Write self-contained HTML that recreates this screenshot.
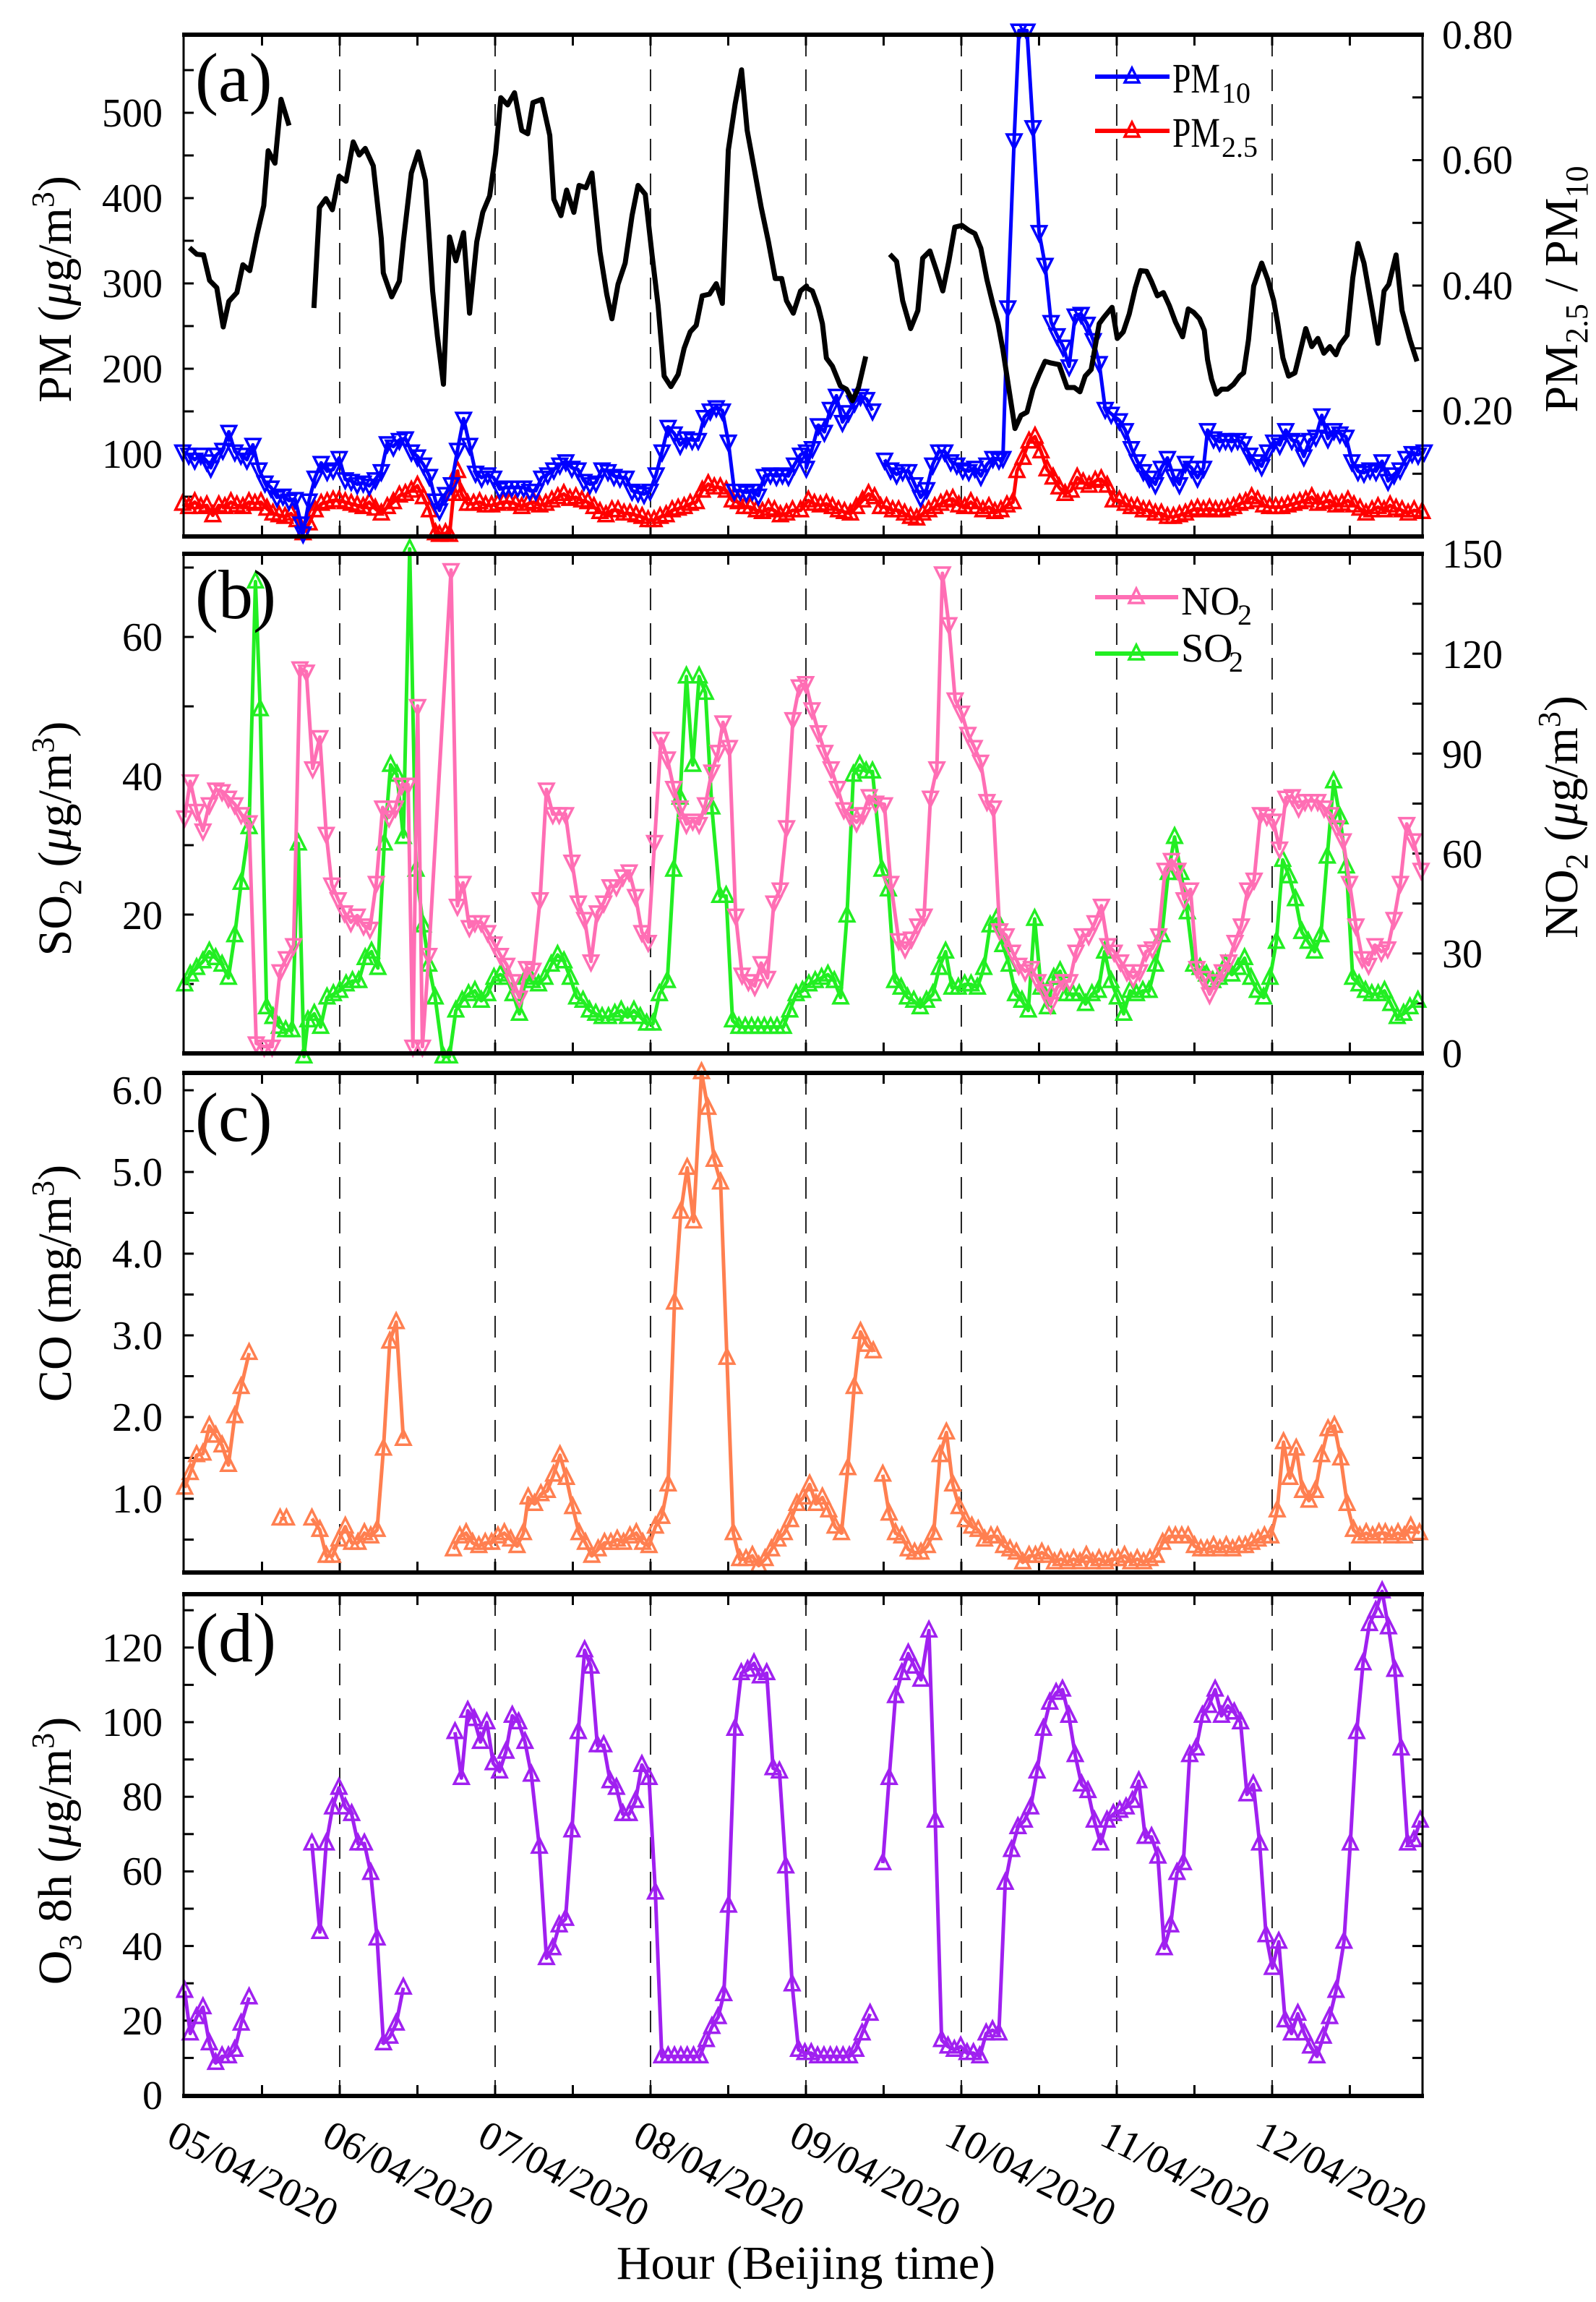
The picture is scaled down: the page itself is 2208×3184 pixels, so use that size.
<!DOCTYPE html>
<html><head><meta charset="utf-8">
<style>
html,body{margin:0;padding:0;background:#fff;}
svg{display:block;font-family:"Liberation Serif","DejaVu Serif",serif;}
</style></head>
<body>
<svg id="c" width="2208" height="3184" viewBox="0 0 2208 3184">
<rect width="2208" height="3184" fill="#fff"/>
<g id="plot"></g>
<g font-size="56" fill="#000">
<g text-anchor="end">
<text x="225" y="647">100</text><text x="225" y="529">200</text><text x="225" y="411">300</text><text x="225" y="293">400</text><text x="225" y="175">500</text>
<text x="225" y="1285">20</text><text x="225" y="1093">40</text><text x="225" y="900">60</text>
<text x="225" y="2092">1.0</text><text x="225" y="1979">2.0</text><text x="225" y="1866">3.0</text><text x="225" y="1753">4.0</text><text x="225" y="1640">5.0</text><text x="225" y="1527">6.0</text>
<text x="225" y="2917">0</text><text x="225" y="2814">20</text><text x="225" y="2711">40</text><text x="225" y="2607">60</text><text x="225" y="2504">80</text><text x="225" y="2401">100</text><text x="225" y="2298">120</text>
</g>
<g text-anchor="start">
<text x="1995" y="587">0.20</text><text x="1995" y="414">0.40</text><text x="1995" y="240">0.60</text><text x="1995" y="67">0.80</text>
<text x="1995" y="1476">0</text><text x="1995" y="1338">30</text><text x="1995" y="1200">60</text><text x="1995" y="1062">90</text><text x="1995" y="924">120</text><text x="1995" y="785">150</text>
</g>
<g font-size="96">
<text x="270" y="140">(a)</text><text x="270" y="855">(b)</text><text x="270" y="1578">(c)</text><text x="270" y="2298">(d)</text>
</g>
<text x="1622" y="128" textLength="66" lengthAdjust="spacingAndGlyphs" font-size="58">PM</text>
<text x="1690" y="142" font-size="40">10</text>
<text x="1622" y="203" textLength="66" lengthAdjust="spacingAndGlyphs" font-size="58">PM</text>
<text x="1690" y="217" font-size="40">2.5</text>
<text x="1634" y="850" font-size="56">NO</text>
<text x="1712" y="864" font-size="40">2</text>
<text x="1634" y="915" font-size="56">SO</text>
<text x="1700" y="929" font-size="40">2</text>
<g font-size="66" text-anchor="middle">
<text transform="translate(98,400) rotate(-90)">PM  (<tspan font-style="italic">μ</tspan>g/m<tspan dy="-24" font-size="44">3</tspan><tspan dy="24">)</tspan></text>
<text transform="translate(98,1160) rotate(-90)">SO<tspan dy="14" font-size="44">2</tspan><tspan dy="-14">  (</tspan><tspan font-style="italic">μ</tspan>g/m<tspan dy="-24" font-size="44">3</tspan><tspan dy="24">)</tspan></text>
<text transform="translate(98,1775) rotate(-90)">CO  (mg/m<tspan dy="-24" font-size="44">3</tspan><tspan dy="24">)</tspan></text>
<text transform="translate(98,2560) rotate(-90)">O<tspan dy="14" font-size="44">3</tspan><tspan dy="-14">  8h  (</tspan><tspan font-style="italic">μ</tspan>g/m<tspan dy="-24" font-size="44">3</tspan><tspan dy="24">)</tspan></text>
<text transform="translate(2182,400) rotate(-90)">PM<tspan dy="14" font-size="44">2.5</tspan><tspan dy="-14"> / PM</tspan><tspan dy="14" font-size="44">10</tspan></text>
<text transform="translate(2182,1130) rotate(-90)">NO<tspan dy="14" font-size="44">2</tspan><tspan dy="-14">  (</tspan><tspan font-style="italic">μ</tspan>g/m<tspan dy="-24" font-size="44">3</tspan><tspan dy="24">)</tspan></text>
</g>
<g font-size="56">
<text transform="translate(228,2965) rotate(27)">05/04/2020</text>
<text transform="translate(443,2965) rotate(27)">06/04/2020</text>
<text transform="translate(658,2965) rotate(27)">07/04/2020</text>
<text transform="translate(873,2965) rotate(27)">08/04/2020</text>
<text transform="translate(1089,2965) rotate(27)">09/04/2020</text>
<text transform="translate(1304,2965) rotate(27)">10/04/2020</text>
<text transform="translate(1519,2965) rotate(27)">11/04/2020</text>
<text transform="translate(1734,2965) rotate(27)">12/04/2020</text>
</g>
<text x="1115" y="3152" font-size="66" text-anchor="middle">Hour (Beijing time)</text>
</g>
</svg>
<script>
(function(){
var Z={z3:[250,.555,40,.453],z4:[1110,.555,40,.453],z5:[250,1.1,750,.453],z6:[250,1.1,1474,.449],z7:[250,1.1,2192,.453]};
function m(z,a){var c=Z[z],o=[];for(var i=0;i<a.length;i+=2)o.push([c[0]+a[i]*c[1],c[2]+a[i+1]*c[3]]);return o;}
var out=[];
var panels=[[48,742],[766,1457],[1484,2175],[2205,2899]];
var L=254,R=1968;
function X(h){return 255+h*8.958;}
panels.forEach(function(p){
  for(var d=1;d<8;d++){var x=X(d*24);out.push('<line x1="'+x+'" y1="'+p[0]+'" x2="'+x+'" y2="'+p[1]+'" stroke="#222" stroke-width="2" stroke-dasharray="30 18"/>');}
  for(var h=12;h<192;h+=12){var x=X(h);out.push('<line x1="'+x+'" y1="'+p[0]+'" x2="'+x+'" y2="'+(p[0]+15)+'" stroke="#000" stroke-width="3"/>');out.push('<line x1="'+x+'" y1="'+p[1]+'" x2="'+x+'" y2="'+(p[1]-15)+'" stroke="#000" stroke-width="3"/>');}
});
function lt(y){out.push('<line x1="'+L+'" y1="'+y+'" x2="'+(L+14)+'" y2="'+y+'" stroke="#000" stroke-width="3"/>');}
function rt(y){out.push('<line x1="'+R+'" y1="'+y+'" x2="'+(R-14)+'" y2="'+y+'" stroke="#000" stroke-width="3"/>');}
var v;
for(v=50;v<=550;v+=50)lt(746-v*1.18);
for(v=0.1;v<0.8;v+=0.1)rt(742-v*867.5);
for(v=10;v<=70;v+=10)lt(1457-v*9.6);
for(v=15;v<150;v+=15)rt(1457-v*4.607);
for(v=0.5;v<=6.01;v+=0.5){lt(2073-(v-1)*113);rt(2073-(v-1)*113);}
for(v=10;v<=130;v+=10){lt(2898-v*5.16);rt(2898-v*5.16);}
function tri(x,y,up,col){var s=10;var pts=up?[[x,y-s-2],[x-s,y+s-2],[x+s,y+s-2]]:[[x,y+s+2],[x-s,y-s+2],[x+s,y-s+2]];
 return '<polygon points="'+pts.map(function(p){return p[0].toFixed(1)+','+p[1].toFixed(1)}).join(' ')+'" fill="none" stroke="'+col+'" stroke-width="3.5"/>';}
function series(segs,col,w,mk){
 segs.forEach(function(seg){
  var pts=[];seg.forEach(function(s){pts=pts.concat(m(s[0],s[1]));});
  out.push('<polyline points="'+pts.map(function(p){return p[0].toFixed(1)+','+p[1].toFixed(1)}).join(' ')+'" fill="none" stroke="'+col+'" stroke-width="'+w+'" stroke-linejoin="round"/>');
  if(mk){pts.forEach(function(p){out.push(tri(p[0],p[1],mk=='up',col));});}
 });
}
var red3=[5,1450,20,1460,35,1445,50,1460,65,1455,80,1485,95,1455,110,1460,125,1445,140,1455,155,1460,170,1445,185,1450,200,1445,215,1465,230,1480,245,1485,260,1490,275,1480,290,1500,305,1540,320,1510,335,1470,350,1450,365,1445,380,1440,395,1440,410,1445,425,1450,440,1455,455,1460,470,1445,485,1465,500,1480,515,1460,530,1445,545,1425,560,1420,575,1410,590,1395,605,1430,620,1470,635,1540,645,1545,660,1540,670,1545,680,1420,690,1350,700,1420,715,1450,730,1450,745,1445,760,1455,775,1455,790,1450,805,1445,820,1445,835,1450,850,1460,865,1450,880,1445,895,1455,910,1450,925,1440,940,1430,955,1420,970,1435,985,1430,1000,1440,1015,1445,1030,1460,1045,1475,1060,1485,1075,1470,1090,1470,1105,1480,1120,1480,1135,1485,1150,1490,1165,1500,1180,1500,1195,1490,1210,1485,1225,1470,1240,1465,1255,1460,1270,1450,1285,1445,1300,1410,1315,1390,1330,1400,1345,1400,1360,1410,1375,1440,1390,1445,1405,1460,1420,1460,1435,1470,1450,1475,1465,1465,1480,1470,1495,1485,1510,1480,1525,1470,1545,1470];
var red4=[15,1440,30,1450,45,1455,60,1450,75,1460,90,1470,105,1475,120,1480,135,1460,150,1440,165,1420,180,1430,195,1460,210,1460,225,1470,240,1470,255,1480,270,1490,285,1495,300,1480,315,1470,330,1460,345,1450,360,1440,375,1435,390,1455,405,1460,420,1445,435,1460,450,1470,465,1460,480,1475,495,1470,510,1455,525,1445,535,1350,550,1310,565,1260,580,1245,595,1290,610,1345,625,1370,640,1400,655,1420,670,1410,685,1370,700,1385,715,1395,730,1380,745,1375,760,1395,775,1440,790,1440,805,1450,820,1460,835,1460,850,1470,865,1470,880,1480,895,1480,910,1490,925,1490,940,1485,955,1480,970,1470,985,1465,1000,1470,1015,1465,1030,1470,1045,1470,1060,1465,1075,1460,1090,1450,1105,1445,1120,1430,1135,1440,1150,1455,1165,1460,1180,1460,1195,1460,1210,1455,1225,1450,1240,1445,1255,1440,1270,1430,1285,1450,1300,1445,1315,1440,1330,1455,1345,1450,1360,1440,1375,1455,1390,1465,1405,1480,1420,1470,1435,1460,1450,1470,1465,1455,1480,1465,1495,1470,1510,1480,1525,1470,1545,1475];
series([[['z3',red3],['z4',red4]]],'#ff0000',5,'up');
var blue3=[5,1290,20,1300,35,1315,50,1300,65,1320,75,1340,90,1300,105,1285,120,1230,135,1290,150,1300,165,1315,180,1270,195,1345,210,1385,225,1400,240,1430,255,1425,270,1440,285,1435,300,1510,305,1540,320,1440,335,1370,350,1325,365,1350,380,1345,395,1310,410,1375,425,1380,440,1390,455,1385,470,1395,485,1375,500,1350,515,1265,530,1275,545,1255,560,1250,575,1290,590,1305,605,1330,620,1365,635,1440,645,1470,660,1420,675,1390,690,1285,705,1190,720,1270,735,1355,750,1370,765,1360,780,1370,795,1405,810,1400,825,1400,840,1400,855,1400,870,1410,885,1410,900,1370,915,1360,930,1345,945,1330,960,1320,975,1340,990,1345,1005,1380,1020,1390,1035,1385,1050,1345,1065,1350,1080,1365,1095,1370,1110,1370,1125,1410,1140,1415,1155,1420,1170,1410,1185,1360,1200,1290,1215,1215,1230,1235,1245,1270,1260,1250,1275,1255,1290,1255,1305,1185,1320,1165,1335,1155,1350,1165,1365,1260,1380,1410,1395,1410,1410,1415,1425,1410,1440,1425,1455,1365,1470,1360,1485,1365,1500,1360,1515,1365,1530,1330,1545,1300,1560,1290];
var blue4a=[10,1340,25,1280,40,1210,55,1230,70,1160,85,1120,100,1200,115,1170,130,1140,145,1120,160,1130,175,1165];
var blue4b=[205,1315,220,1345,235,1360,250,1350,265,1350,280,1390,295,1430,310,1405,325,1330,340,1290,355,1290,370,1320,385,1330,400,1345,415,1350,430,1340,445,1365,460,1330,475,1310,490,1315,500,1310,512,850,528,340,540,5,560,5,575,300,590,620,605,720,620,895,635,935,650,970,665,1030,680,875,695,870,710,900,725,950,740,1020,755,1160,770,1175,790,1195,805,1225,820,1280,835,1320,850,1350,865,1370,880,1390,895,1340,910,1310,925,1365,940,1390,955,1325,970,1340,985,1370,1000,1340,1010,1225,1025,1250,1040,1260,1055,1255,1070,1260,1085,1255,1100,1265,1115,1300,1130,1320,1145,1335,1160,1290,1175,1260,1190,1270,1205,1225,1220,1255,1235,1260,1250,1305,1265,1255,1280,1245,1295,1180,1310,1250,1325,1225,1340,1235,1355,1245,1370,1320,1385,1350,1400,1355,1415,1345,1430,1350,1445,1320,1460,1380,1475,1360,1490,1345,1505,1310,1520,1295,1535,1300,1550,1290];
series([[['z3',blue3],['z4',blue4a]],[['z4',blue4b]]],'#0000ff',5,'down');
var k1=[22,668,40,688,57,690,72,768,90,790,106,910,120,832,140,805,155,720,172,738,190,630,207,540,218,372,235,410,250,215,270,295];
var k2=[332,852,346,545,362,518,378,552,395,450,412,465,430,345,445,385,460,365,480,418,500,640,505,745,526,818,545,770,555,650,575,440,592,375,610,462,628,800,640,940,655,1085,670,635,686,708,705,622,720,868,738,650,753,560,770,510,785,380,798,210,815,232,832,195,850,310,865,320,878,225,900,215,920,325,930,520,948,570,962,492,980,560,993,478,1010,485,1025,440,1045,680,1062,810,1075,885,1090,780,1108,715,1125,570,1140,478,1158,505,1175,690,1190,845,1205,1060,1222,1092,1240,1055,1255,975,1270,925,1285,905,1300,815,1318,810,1335,778,1350,838,1365,370,1382,230,1398,125,1412,310,1430,430,1447,545,1465,650,1482,762,1498,762,1510,830,1527,868,1545,800,1560,785];
var k3=[10,790,25,800,40,850,50,900,60,1005,75,1030,95,1090,110,1100,125,1135,140,1095,158,1000];
var k4=[218,688,235,710,250,830,270,915,288,860,300,700,318,678,335,740,350,800,365,710,380,605,398,600,415,615,430,625,445,670,460,765,475,840,488,900,500,980,515,1100,530,1220,545,1180,560,1170,575,1100,590,1055,605,1015,620,1020,640,1025,660,1095,678,1095,692,1108,705,1060,720,1040,740,900,752,880,772,850,785,945,800,925,815,870,830,790,843,738,858,740,870,770,885,815,900,805,915,845,930,895,948,940,962,855,975,865,990,885,1002,920,1010,1010,1020,1070,1032,1115,1045,1100,1060,1100,1075,1085,1090,1060,1100,1050,1112,950,1125,785,1145,715,1160,765,1175,830,1185,900,1198,1005,1212,1060,1228,1050,1240,990,1255,915,1270,970,1285,945,1300,990,1315,970,1330,995,1340,965,1358,935,1372,760,1385,655,1400,715,1418,840,1435,960,1450,800,1462,780,1480,690,1495,860,1515,950,1532,1015];
series([[['z3',k1]],[['z3',k2],['z4',k3]],[['z4',k4]]],'#000',7,null);
var so2=[5,1350,12,1320,20,1300,28,1280,36,1250,44,1270,52,1290,60,1330,68,1200,76,1040,86,870,94,120,100,510,108,1420,116,1450,124,1480,132,1490,140,1490,148,920,155,1570,160,1460,168,1440,176,1480,184,1390,192,1380,200,1370,208,1350,216,1340,224,1340,232,1270,240,1250,248,1300,256,920,264,680,272,710,280,900,288,20,296,1000,305,1170,312,1290,320,1390,330,1570,338,1570,346,1430,354,1400,362,1380,370,1370,378,1400,386,1380,394,1330,402,1320,410,1330,418,1380,426,1440,434,1330,442,1340,450,1350,458,1330,466,1290,474,1260,482,1280,490,1330,498,1390,506,1400,514,1430,522,1440,530,1450,538,1450,546,1440,554,1430,562,1450,570,1430,578,1450,586,1470,594,1470,602,1380,612,1340,620,1000,628,780,636,410,644,680,652,410,660,460,668,810,678,1080,686,1080,694,1460,702,1480,710,1480,718,1480,726,1480,734,1480,742,1480,750,1480,758,1480,766,1430,774,1380,782,1370,790,1350,798,1340,806,1330,814,1320,822,1340,830,1390,838,1140,846,710,854,680,862,700,870,700,882,1000,890,1060,898,1340,906,1360,914,1390,922,1400,930,1420,938,1400,946,1380,954,1300,962,1250,970,1360,978,1360,986,1350,994,1350,1002,1360,1010,1300,1018,1170,1026,1150,1034,1230,1042,1290,1050,1380,1058,1400,1066,1430,1074,1150,1082,1360,1090,1420,1098,1330,1106,1310,1114,1380,1122,1380,1130,1380,1138,1410,1146,1380,1154,1370,1162,1250,1170,1340,1178,1390,1186,1440,1194,1370,1202,1380,1210,1370,1218,1370,1226,1290,1234,1200,1242,1010,1250,900,1258,1010,1266,1130,1274,1290,1282,1300,1290,1320,1298,1340,1306,1330,1314,1290,1322,1320,1330,1300,1338,1270,1346,1330,1354,1370,1362,1390,1370,1330,1378,1220,1386,970,1394,1020,1402,1090,1410,1190,1418,1220,1426,1250,1434,1200,1442,960,1450,730,1458,840,1466,990,1474,1330,1482,1350,1490,1370,1498,1380,1506,1380,1514,1370,1522,1410,1530,1450,1538,1440,1546,1420,1556,1400];
series([[['z5',so2]]],'#22ee22',5,'up');
var no2=[5,840,12,730,20,820,28,880,36,800,44,755,52,760,60,780,68,800,76,830,86,855,95,1530,105,1540,115,1540,125,1310,133,1270,142,1230,150,385,158,395,166,690,175,595,183,890,190,1045,198,1090,206,1130,214,1160,222,1140,230,1170,238,1180,246,1040,254,810,262,840,270,810,278,740,286,740,292,1540,298,500,304,1540,312,1260,340,85,348,1110,355,1040,363,1175,370,1160,378,1160,386,1190,394,1225,402,1260,410,1290,418,1340,426,1390,435,1300,443,1305,452,1090,460,755,468,830,476,830,484,830,492,975,500,1100,508,1150,516,1280,524,1130,532,1100,540,1050,548,1050,556,1020,564,1005,572,1080,580,1190,588,1220,596,915,604,600,612,660,620,750,628,810,636,860,644,850,652,860,660,800,668,700,676,640,682,550,690,625,698,1140,706,1320,714,1340,722,1355,730,1285,738,1330,746,1100,754,1060,762,870,770,540,778,440,786,430,794,510,802,580,810,640,818,690,826,750,834,815,842,835,850,855,858,830,866,775,874,795,885,800,893,1040,903,1215,911,1240,919,1210,927,1170,935,1140,943,780,951,690,958,95,966,250,974,480,982,520,990,585,998,625,1006,670,1014,790,1022,810,1030,1185,1038,1200,1046,1250,1054,1290,1062,1310,1070,1300,1078,1340,1086,1370,1094,1410,1102,1360,1110,1340,1118,1340,1126,1250,1134,1200,1142,1200,1150,1160,1158,1110,1166,1230,1174,1250,1182,1280,1190,1310,1198,1330,1206,1310,1214,1250,1222,1240,1230,1200,1238,1000,1246,970,1254,1000,1262,1090,1270,1060,1278,1300,1286,1330,1294,1380,1302,1340,1310,1310,1318,1280,1326,1220,1334,1170,1342,1060,1350,1030,1358,830,1366,835,1374,850,1382,935,1390,780,1398,775,1406,810,1414,790,1422,790,1430,790,1438,810,1446,830,1454,870,1462,910,1470,1040,1478,1170,1486,1270,1494,1290,1502,1230,1510,1250,1518,1240,1526,1150,1534,1040,1542,860,1550,910,1560,1000];
series([[['z5',no2]]],'#ff6eb4',5,'down');
var coC='#ff7f50';
series([
[['z6',[5,1300,12,1255,20,1200,28,1195,36,1110,44,1140,52,1170,60,1230,68,1080,76,990,86,885]]],
[['z6',[125,1395,133,1395]]],
[['z6',[165,1395,175,1430,183,1510,191,1510,199,1460,207,1420,215,1470,223,1470,231,1440,239,1450,247,1430,255,1180,263,850,271,790,280,1150]]],
[['z6',[343,1490,351,1450,359,1440,367,1470,375,1480,383,1470,391,1470,399,1450,407,1440,415,1460,423,1480,431,1440,437,1330,445,1350,453,1320,461,1310,469,1260,477,1200,485,1270,493,1360,501,1440,509,1470,517,1510,525,1490,533,1470,541,1470,549,1460,557,1470,565,1450,573,1440,581,1470,589,1480,597,1420,605,1390,613,1290,621,730,629,450,637,315,645,480,655,20,663,130,671,290,679,360,687,900,695,1440,703,1520,711,1520,719,1510,727,1540,735,1520,743,1490,751,1460,759,1440,767,1400,775,1350,783,1330,791,1290,799,1350,807,1330,815,1370,823,1420,831,1440,839,1240,847,990,855,820,863,860,871,880]]],
[['z6',[883,1260,891,1380,899,1440,907,1450,915,1490,923,1500,931,1500,939,1480,947,1440,955,1200,963,1130,971,1290,979,1360,987,1400,995,1420,1003,1430,1011,1460,1019,1450,1027,1450,1035,1480,1043,1490,1051,1500,1059,1530,1067,1510,1075,1510,1083,1500,1091,1510,1099,1530,1107,1520,1115,1530,1123,1520,1131,1530,1139,1510,1147,1530,1155,1520,1163,1530,1171,1520,1179,1520,1187,1510,1195,1530,1203,1520,1211,1530,1219,1520,1227,1510,1235,1470,1243,1450,1251,1450,1259,1450,1267,1450,1275,1480,1283,1490,1291,1490,1299,1480,1307,1490,1315,1480,1323,1490,1331,1480,1339,1480,1347,1470,1355,1460,1363,1450,1371,1450,1379,1370,1387,1160,1395,1270,1403,1180,1411,1310,1419,1340,1427,1310,1435,1200,1443,1120,1451,1110,1459,1210,1467,1350,1475,1430,1483,1450,1491,1440,1499,1450,1507,1440,1515,1440,1523,1450,1531,1440,1539,1450,1547,1420,1558,1440]]]
],coC,5,'up');
series([
[['z7',[5,1240,12,1370,20,1320,28,1290,36,1400,44,1460,52,1440,60,1440,68,1420,76,1340,86,1260]]],
[['z7',[165,790,175,1060,183,790,191,680,199,620,207,680,215,700,223,790,231,790,239,880,247,1080,255,1400,263,1380,271,1340,280,1230]]],
[['z7',[345,450,353,590,361,385,369,410,377,480,385,420,393,545,401,570,409,510,417,400,425,420,433,480,441,580,451,800,460,1140,468,1110,476,1040,484,1020,492,750,500,450,508,200,516,250,524,490,532,490,540,600,548,620,556,700,564,700,572,660,580,550,589,590,597,940,605,1440,613,1440,621,1440,629,1440,637,1440,645,1440,653,1440,661,1390,668,1350,676,1320,683,1250,689,980,697,440,705,270,713,260,721,240,729,280,737,270,745,560,753,570,761,860,769,1220,777,1420,785,1430,793,1430,801,1440,809,1440,817,1440,825,1440,833,1440,841,1440,849,1420,857,1370,867,1310]]],
[['z7',[883,850,891,590,899,340,907,270,915,210,923,250,931,290,941,140,949,720,957,1390,965,1410,973,1420,981,1410,989,1430,997,1430,1005,1440,1013,1370,1021,1360,1029,1370,1037,910,1045,810,1053,740,1061,720,1069,680,1077,570,1085,440,1093,360,1101,330,1109,320,1117,400,1125,520,1133,610,1141,630,1149,720,1157,790,1165,720,1173,700,1181,690,1189,680,1197,660,1205,600,1213,770,1221,770,1229,830,1237,1110,1245,1040,1253,880,1261,850,1269,520,1277,500,1285,400,1293,370,1301,320,1309,400,1317,370,1325,390,1333,420,1341,640,1349,610,1357,790,1365,1070,1373,1170,1381,1090,1389,1330,1397,1370,1405,1310,1413,1370,1421,1410,1429,1440,1437,1380,1445,1320,1453,1240,1463,1090,1471,790,1479,450,1487,240,1495,120,1503,80,1511,20,1519,130,1527,260,1535,500,1543,790,1551,780,1559,720]]]
],'#a020f0',5,'up');
panels.forEach(function(p){
 out.push('<rect x="'+L+'" y="'+p[0]+'" width="'+(R-L)+'" height="'+(p[1]-p[0])+'" fill="none" stroke="#000" stroke-width="3"/>');
 out.push('<line x1="'+(L-2)+'" y1="'+p[0]+'" x2="'+(R+2)+'" y2="'+p[0]+'" stroke="#000" stroke-width="6"/>');
 out.push('<line x1="'+(L-2)+'" y1="'+p[1]+'" x2="'+(R+2)+'" y2="'+p[1]+'" stroke="#000" stroke-width="6"/>');
});
function leg(y,col){out.push('<line x1="1515" y1="'+y+'" x2="1618" y2="'+y+'" stroke="'+col+'" stroke-width="6"/>');out.push(tri(1566,y,true,col));}
leg(106,'#0000ff');leg(181,'#ff0000');
out.push('<line x1="1515" y1="826" x2="1630" y2="826" stroke="#ff6eb4" stroke-width="6"/>'+tri(1572,826,true,'#ff6eb4'));
out.push('<line x1="1515" y1="904" x2="1630" y2="904" stroke="#22ee22" stroke-width="6"/>'+tri(1572,904,true,'#22ee22'));
document.getElementById('plot').innerHTML=out.join('');
})();
</script>
</body></html>
